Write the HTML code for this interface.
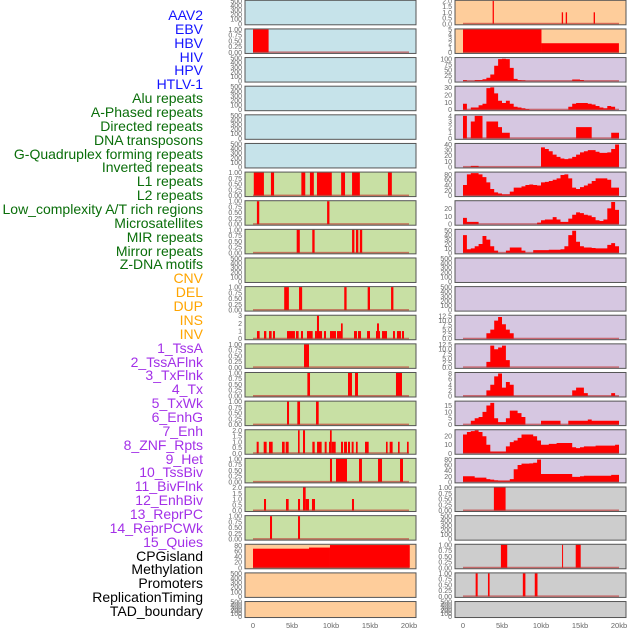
<!DOCTYPE html>
<html><head><meta charset="utf-8">
<style>
html,body{margin:0;padding:0;background:#fff;}
body{width:630px;height:630px;overflow:hidden;position:relative;font-family:"Liberation Sans",sans-serif;}
#labels div{position:absolute;right:427px;font-size:14px;line-height:14px;white-space:nowrap;}
svg{position:absolute;left:0;top:0;}
</style></head>
<body>
<div id="labels"></div>
<svg id="chart" width="630" height="630"></svg>
<script>
const trackLabels = ["AAV2","EBV","HBV","HIV","HPV","HTLV-1","Alu repeats","A-Phased repeats","Directed repeats","DNA transposons","G-Quadruplex forming repeats","Inverted repeats","L1 repeats","L2 repeats","Low_complexity A/T rich regions","Microsatellites","MIR repeats","Mirror repeats","Z-DNA motifs","CNV","DEL","DUP","INS","INV","1_TssA","2_TssAFlnk","3_TxFlnk","4_Tx","5_TxWk","6_EnhG","7_Enh","8_ZNF_Rpts","9_Het","10_TssBiv","11_BivFlnk","12_EnhBiv","13_ReprPC","14_ReprPCWk","15_Quies","CPGisland","Methylation","Promoters","ReplicationTiming","TAD_boundary"];
const labelGroups = [6,13,5,15,5];
const groupColors = ["#1414ff","#0a6e0a","#ffa500","#a330e8","#000000"];

const xTickValues = [0,5,10,15,20];
const xTickLabels = ["0","5kb","10kb","15kb","20kb"];

const ticks500 = [0,100,200,300,400,500];
const ticks1 = [0,0.25,0.5,0.75,1];
const ticks2 = [0,0.5,1,1.5,2];
const ticks3 = [0,1,2,3];
const ticks5 = [0,1,2,3,4,5];
const ticks4 = [0,1,2,3,4];
const ticks100 = [0,25,50,75,100];
const ticks30 = [0,10,20,30];
const ticks40 = [0,10,20,30,40];
const ticks80 = [0,20,40,60,80];
const ticks20 = [0,10,20];
const ticks50 = [0,10,20,30,40,50];
const ticks125 = [0,2.5,5,7.5,10,12.5];
const ticks8 = [0,2,4,6,8];
const ticks15 = [0,5,10,15];

const ebvBars = [[0,2,1]];
const l1Bars = [[0.1,1.4,1],[2.3,2.7,1],[6.2,6.7,1],[7.3,7.8,1],[8.2,10.1,1],[11.3,11.8,1],[12.7,13.7,1],[17.3,17.8,1]];
const lowCxBars = [[0.5,0.8,1],[9.5,9.8,1]];
const mirBars = [[5.6,6.0,1],[7.6,7.9,1],[12.7,13.0,1],[13.2,13.5,1],[13.7,14.0,1]];
const cnvBars = [[4.0,4.6,1],[5.9,6.3,1],[11.7,12.0,1],[14.7,15.0,1],[17.7,18.0,1]];
const insBars = [[0.51,0.85,1],[1.41,1.71,1],[2.05,2.39,1],[2.56,2.82,1],[4.36,5.38,1],[5.51,5.85,1],[6.15,6.41,1],[6.92,7.65,1],[7.95,8.2,1],[8.2,8.46,3],[8.46,8.85,1],[9.1,9.36,1],[9.87,10.64,1],[10.77,11.28,1],[11.28,11.5,2],[12.95,13.33,1],[13.46,13.85,1],[14.62,15.0,1],[15.77,15.9,1],[15.9,16.15,2],[16.15,16.28,1],[16.54,17.18,1],[17.95,18.2,1],[18.46,18.97,1],[19.1,19.36,1]];
const tssABars = [[6.54,7.18,1]];
const tssFlnkBars = [[6.97,7.31,1],[12.18,12.69,1],[13.08,13.46,1],[18.33,19.1,1]];
const txFlnkBars = [[4.36,4.62,1],[5.68,6.03,1],[8.08,8.42,1]];
const txBars = [[0.47,0.73,1],[1.37,1.75,1],[2.05,2.52,1],[3.72,4.06,1],[4.19,4.57,1],[5.77,5.98,2],[6.41,6.67,2],[7.61,7.91,1],[8.21,8.8,1],[9.19,9.44,1],[9.74,9.87,1],[9.87,10.09,2],[10.09,10.6,1],[11.28,11.54,1],[11.67,12.05,1],[12.18,12.44,1],[12.65,12.9,1],[13.2,13.42,1],[14.36,14.83,1],[17.05,17.26,1],[17.52,17.9,1],[18.59,18.8,1],[19.74,19.96,1]];
const txWkBars = [[9.87,10.13,1],[10.64,12.05,1],[13.59,13.97,1],[16.03,16.54,1],[18.85,19.23,1]];
const enhGBars = [[1.41,1.67,1],[4.23,4.57,1],[5.77,6.03,1],[6.41,6.75,2],[6.75,7.18,1],[7.56,7.95,1],[12.69,12.95,1]];
const enhBars = [[2.18,2.44,1],[5.77,6.03,1]];
const cpgBars = [[0,7.18,68],[7.18,9.87,72],[9.87,20.1,81]];

const rAav2Bars = [[3.8,3.96,2],[12.66,12.83,1],[13.17,13.34,1],[16.75,16.92,1]];
const rEbvBars = [[0,10.06,5],[10.06,19.99,2]];
const rGrayABars = [[3.96,5.46,1]];
const rGrayBBars = [[4.86,5.67,1],[12.7,12.8,1],[14.45,15.09,1]];
const rGrayCBars = [[1.62,1.88,1],[3.2,3.41,1],[7.67,8.0,1],[9.2,9.55,1]];

const hivArea = [4,0,0,5,5,8,15,30,70,100,102,100,60,10,4,3,0,0,0,0,0,0,0,0,0,0,0,0,7,7,5,0,0,0,0,0,0,0,0,0];
const hpvArea = [8,0,3,3,6,8,29,30,22,12,9,12,8,4,3,2,1,0,0,0,0,0,0,0,0,0,0,4,8,9,9,9,8,7,5,3,2,5,4,0];
const htlvArea = [4,0,3,4,4,0,3,3,3,2,1,1,0,0,0,0,0,0,0,0,0,0,0,0,0,0,0,0,0,2,2,2,2,0,0,0,0,0,1,1];
const aluArea = [0,0,2,2,0,0,0,0,0,0,0,0,0,0,0,0,0,0,0,0,35,32,28,22,18,15,14,15,18,22,26,28,30,30,27,25,25,26,32,40];
const aPhasedArea = [40,80,85,85,80,70,50,25,12,8,5,5,15,30,30,35,40,42,40,38,50,52,55,60,65,78,80,65,30,25,32,38,45,55,65,65,65,60,30,30];
const directedArea = [8,3,3,3,0,0,0,0,0,0,0,0,0,0,0,0,0,0,0,2,5,6,6,9,6,3,3,7,12,15,14,12,11,9,5,4,6,20,28,18];
const dnaTransArea = [40,8,10,15,20,38,30,15,5,0,0,5,12,12,12,5,0,0,6,6,6,6,7,7,7,8,15,40,50,25,15,12,12,11,10,10,10,18,22,15];
const mirrorArea = [0,0,0,0,0,0,3,5,10,12,8,5,3,0,0,0,0,0,0,0,0,0,0,0,0,0,0,0,0,0,0,0,0,0,0,0,0,0,0,0];
const zdnaArea = [0,0,0,0,0,0,3,12,10,11,12,4,0,0,0,0,0,0,0,0,0,0,0,0,0,0,0,0,0,0,0,0,0,0,0,0,0,0,0,0];
const delArea = [0,0,0,0,0,0,2,4,7,8,3,5,4,0,0,0,0,0,0,0,0,0,0,0,0,0,0,0,2,3,3,1,0,0,0,0,0,0,1,0];
const dupArea = [0,0,3,5,6,10,15,17,5,2,2,5,11,11,9,6,0,0,0,0,3,3,3,3,3,0,0,3,3,3,3,3,4,3,3,3,3,3,3,3];
const insArea = [22,25,26,27,25,20,10,2,2,2,2,8,13,15,18,22,22,22,20,15,10,10,11,11,12,12,12,12,7,6,7,8,8,8,9,9,9,9,9,10];
const invArea = [20,20,20,15,15,15,10,8,6,5,5,5,10,45,60,65,65,66,68,80,28,28,28,28,28,28,28,28,18,18,20,22,22,22,22,22,22,22,25,25];

const BG = {blue:"#c6e3ea", green:"#c8e0a4", orange:"#fecd9b", purple:"#d6c7e1", gray:"#cdcdcd"};

const panels = [
 {c:0,r:0,bg:"blue",ticks:ticks500,ymax:500,dec:0},
 {c:0,r:1,bg:"blue",ticks:ticks1,ymax:1,dec:2,bars:ebvBars},
 {c:0,r:2,bg:"blue",ticks:ticks500,ymax:500,dec:0},
 {c:0,r:3,bg:"blue",ticks:ticks500,ymax:500,dec:0},
 {c:0,r:4,bg:"blue",ticks:ticks500,ymax:500,dec:0},
 {c:0,r:5,bg:"blue",ticks:ticks500,ymax:500,dec:0},
 {c:0,r:6,bg:"green",ticks:ticks1,ymax:1,dec:2,bars:l1Bars},
 {c:0,r:7,bg:"green",ticks:ticks1,ymax:1,dec:2,bars:lowCxBars},
 {c:0,r:8,bg:"green",ticks:ticks1,ymax:1,dec:2,bars:mirBars},
 {c:0,r:9,bg:"green",ticks:ticks500,ymax:500,dec:0},
 {c:0,r:10,bg:"green",ticks:ticks1,ymax:1,dec:2,bars:cnvBars},
 {c:0,r:11,bg:"green",ticks:ticks3,ymax:3,dec:0,bars:insBars},
 {c:0,r:12,bg:"green",ticks:ticks1,ymax:1,dec:2,bars:tssABars},
 {c:0,r:13,bg:"green",ticks:ticks1,ymax:1,dec:2,bars:tssFlnkBars},
 {c:0,r:14,bg:"green",ticks:ticks1,ymax:1,dec:2,bars:txFlnkBars},
 {c:0,r:15,bg:"green",ticks:ticks2,ymax:2,dec:1,bars:txBars},
 {c:0,r:16,bg:"green",ticks:ticks1,ymax:1,dec:2,bars:txWkBars},
 {c:0,r:17,bg:"green",ticks:ticks2,ymax:2,dec:1,bars:enhGBars},
 {c:0,r:18,bg:"green",ticks:ticks1,ymax:1,dec:2,bars:enhBars},
 {c:0,r:19,bg:"orange",ticks:ticks80,ymax:82,dec:0,bars:cpgBars},
 {c:0,r:20,bg:"orange",ticks:ticks500,ymax:500,dec:0},
 {c:0,r:21,bg:"orange",ticks:ticks500,ymax:500,dec:0},
 {c:1,r:0,bg:"orange",ticks:ticks2,ymax:2,dec:1,bars:rAav2Bars},
 {c:1,r:1,bg:"orange",ticks:ticks5,ymax:5,dec:0,bars:rEbvBars},
 {c:1,r:2,bg:"purple",ticks:ticks100,ymax:105,dec:0,area:hivArea},
 {c:1,r:3,bg:"purple",ticks:ticks30,ymax:31,dec:0,area:hpvArea},
 {c:1,r:4,bg:"purple",ticks:ticks4,ymax:4.1,dec:0,area:htlvArea},
 {c:1,r:5,bg:"purple",ticks:ticks40,ymax:41,dec:0,area:aluArea},
 {c:1,r:6,bg:"purple",ticks:ticks80,ymax:87,dec:0,area:aPhasedArea},
 {c:1,r:7,bg:"purple",ticks:ticks20,ymax:29,dec:0,area:directedArea},
 {c:1,r:8,bg:"purple",ticks:ticks50,ymax:52,dec:0,area:dnaTransArea},
 {c:1,r:9,bg:"purple",ticks:ticks500,ymax:500,dec:0},
 {c:1,r:10,bg:"purple",ticks:ticks500,ymax:500,dec:0},
 {c:1,r:11,bg:"purple",ticks:ticks125,ymax:12.7,dec:1,area:mirrorArea},
 {c:1,r:12,bg:"purple",ticks:ticks125,ymax:12.7,dec:1,area:zdnaArea},
 {c:1,r:13,bg:"purple",ticks:ticks8,ymax:8.2,dec:0,area:delArea},
 {c:1,r:14,bg:"purple",ticks:ticks15,ymax:18,dec:0,area:dupArea},
 {c:1,r:15,bg:"purple",ticks:ticks20,ymax:27,dec:0,area:insArea},
 {c:1,r:16,bg:"purple",ticks:ticks80,ymax:82,dec:0,area:invArea},
 {c:1,r:17,bg:"gray",ticks:ticks1,ymax:1,dec:2,bars:rGrayABars},
 {c:1,r:18,bg:"gray",ticks:ticks500,ymax:500,dec:0},
 {c:1,r:19,bg:"gray",ticks:ticks1,ymax:1,dec:2,bars:rGrayBBars},
 {c:1,r:20,bg:"gray",ticks:ticks1,ymax:1,dec:2,bars:rGrayCBars},
 {c:1,r:21,bg:"gray",ticks:ticks500,ymax:500,dec:0}
];

const NS = "http://www.w3.org/2000/svg";
const svg = document.getElementById("chart");
const colLeft = [245,455], colWidth = 171, x0kb = [253,463], pxPerKb = 7.8;
function xScale(c, kb){ return x0kb[c] + kb*pxPerKb; }
function rowTop(r){ return r*28.63 + 0.3; }
function rowH(r){ return r===21 ? 16 : 24.5; }
function yScale(p, v){ const t=rowTop(p.r), h=rowH(p.r); return t + h - 1 - (v/p.ymax)*(h-1.5); }
function el(tag){ return document.createElementNS(NS, tag); }

const labWrap = document.getElementById("labels");
let li = 0;
labelGroups.forEach((n, g) => {
  for (let k=0;k<n;k++){
    const d = document.createElement("div");
    d.textContent = trackLabels[li];
    d.style.top = (15 + li*13.86 - 7) + "px";
    d.style.color = groupColors[g];
    
    
    labWrap.appendChild(d);
    li++;
  }
});

panels.forEach(p => {
  const g = el("g");
  
  
  svg.appendChild(g);
  const t = rowTop(p.r), h = rowH(p.r), L = colLeft[p.c];
  const bg = el("rect");
  bg.setAttribute("x", L); bg.setAttribute("y", t);
  bg.setAttribute("width", colWidth); bg.setAttribute("height", h);
  bg.setAttribute("fill", BG[p.bg]);
  
  
  g.appendChild(bg);
  p.ticks.forEach(v => {
    const tx = el("text");
    tx.textContent = v.toFixed(p.dec);
    tx.setAttribute("x", L - 3);
    tx.setAttribute("y", yScale(p, v) + 2.5);
    tx.setAttribute("text-anchor", "end");
    tx.setAttribute("font-size", "7");
    tx.setAttribute("fill", "#666");
    tx.setAttribute("font-family", "Liberation Sans, sans-serif");
    
    
    g.appendChild(tx);
  });
  const hasData = p.bars || p.area;
  if (p.bars){
    p.bars.forEach(b => {
      const r = el("rect");
      const xa = xScale(p.c, b[0]), xb = xScale(p.c, b[1]);
      const y = yScale(p, b[2]);
      r.setAttribute("x", xa); r.setAttribute("y", y);
      r.setAttribute("width", Math.max(1, xb - xa));
      r.setAttribute("height", yScale(p, 0) - y);
      r.setAttribute("fill", "#ff0000");
      
      
      g.appendChild(r);
    });
  }
  if (p.area){
    let d = "M" + xScale(p.c, 0) + "," + yScale(p, 0);
    p.area.forEach((v, i) => {
      const y = yScale(p, v);
      d += " L" + xScale(p.c, i*0.5) + "," + y + " L" + xScale(p.c, (i+1)*0.5) + "," + y;
    });
    d += " L" + xScale(p.c, p.area.length*0.5) + "," + yScale(p, 0) + " Z";
    const path = el("path");
    path.setAttribute("d", d);
    path.setAttribute("fill", "#ff0000");
    
    
    g.appendChild(path);
  }
  if (hasData){
    const bl = el("rect");
    bl.setAttribute("x", xScale(p.c, 0)); bl.setAttribute("y", yScale(p, 0) - 1);
    bl.setAttribute("width", 20*pxPerKb); bl.setAttribute("height", 1.5);
    bl.setAttribute("fill", "rgba(190,40,40,0.6)");
    
    
    g.appendChild(bl);
  }
  const br = el("rect");
  br.setAttribute("x", L); br.setAttribute("y", t);
  br.setAttribute("width", colWidth); br.setAttribute("height", h);
  br.setAttribute("fill", "none"); br.setAttribute("stroke", "#555"); br.setAttribute("stroke-width", "1");
  
  
  g.appendChild(br);
});

[0,1].forEach(c => {
  xTickValues.forEach((v, i) => {
    const tx = el("text");
    tx.textContent = xTickLabels[i];
    tx.setAttribute("x", xScale(c, v));
    tx.setAttribute("y", 628);
    tx.setAttribute("text-anchor", "middle");
    tx.setAttribute("font-size", "7.5");
    tx.setAttribute("fill", "#666");
    tx.setAttribute("font-family", "Liberation Sans, sans-serif");
    
    
    svg.appendChild(tx);
  });
});
</script>
</body></html>
